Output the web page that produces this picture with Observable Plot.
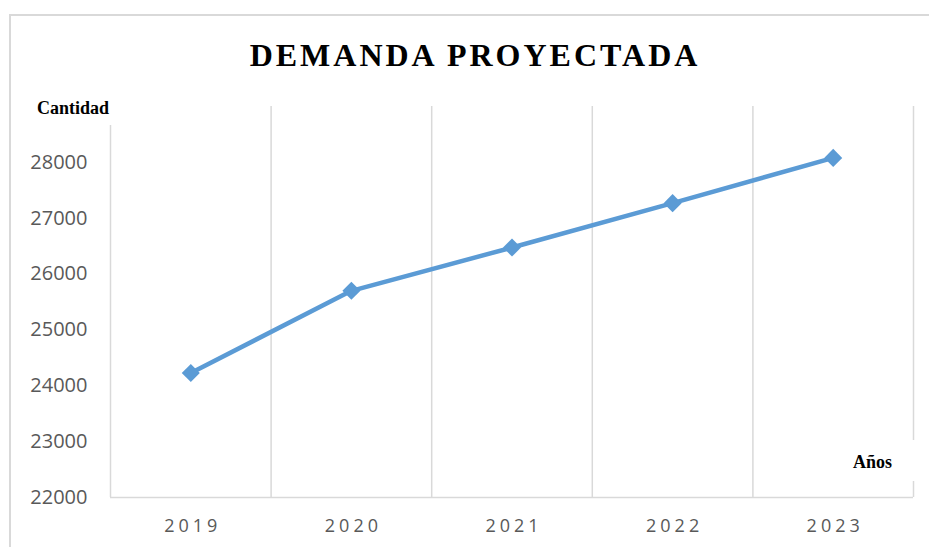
<!DOCTYPE html>
<html>
<head>
<meta charset="utf-8">
<script src="https://cdn.jsdelivr.net/npm/d3@7"></script>
<script src="https://cdn.jsdelivr.net/npm/@observablehq/plot@0.6"></script>
<style>
  body { margin: 0; background: #fff; }
  #wrap { position: relative; width: 929px; height: 547px; overflow: hidden; background: #fff; }
  #frame { position: absolute; left: 9px; top: 14px; width: 960px; height: 600px;
           border-left: 2px solid #d9d9d9; border-top: 2px solid #d9d9d9; box-sizing: border-box; }
  #chart { position: absolute; left: 0; top: 0; }
  #title { position: absolute; left: 0; width: 950px; top: 39px; text-align: center;
           font-family: "Liberation Serif", "Times New Roman", serif; font-weight: bold;
           font-size: 32px; line-height: 32px; letter-spacing: 3px; color: #000; }
  .boxlab { position: absolute; background: #fff; font-family: "Liberation Serif", "Times New Roman", serif;
            font-weight: bold; font-size: 18px; line-height: 18px; color: #000; box-sizing: border-box; }
  #ylab { left: 30px; top: 95px; width: 83px; height: 30px; padding: 4px 0 0 7px; }
  #xlab { left: 833px; top: 440px; width: 86px; height: 41px; padding: 13px 0 0 20px; }
  g[aria-label="x-axis tick label"] text { letter-spacing: 4px; }
</style>
</head>
<body>
<div id="wrap">
  <div id="frame"></div>
  <div id="chart"></div>
  <div id="title">DEMANDA PROYECTADA</div>
  <div id="ylab" class="boxlab">Cantidad</div>
  <div id="xlab" class="boxlab">Años</div>
</div>
<script>
const years = [2019, 2020, 2021, 2022, 2023];
const demanda = [24230, 25700, 26475, 27270, 28080];
const yTicks = [22000, 23000, 24000, 25000, 26000, 27000, 28000];
const yDomain = [22000, 29000];

const data = years.map((a, i) => ({anio: a, cantidad: demanda[i]}));
const bounds = years.map(a => a - 0.5).concat([years[years.length - 1] + 0.5]);

const diamond = {
  draw(ctx, size) {
    const h = Math.sqrt(size / 2);
    ctx.moveTo(0, -h); ctx.lineTo(h, 0); ctx.lineTo(0, h); ctx.lineTo(-h, 0); ctx.closePath();
  }
};

const chart = Plot.plot({
  width: 929,
  height: 547,
  marginLeft: 110,
  marginRight: 16,
  marginTop: 106,
  marginBottom: 50,
  style: {fontFamily: "'Open Sans', sans-serif", background: "transparent", color: "#595959"},
  x: {domain: [bounds[0], bounds[bounds.length - 1]]},
  y: {domain: yDomain},
  marks: [
    Plot.ruleX(bounds, {stroke: "#d9d9d9", strokeWidth: 1.5}),
    Plot.ruleY([yDomain[0]], {stroke: "#d9d9d9", strokeWidth: 1.5}),
    Plot.axisY({ticks: yTicks, tickFormat: d => String(d), tickSize: 0, tickPadding: 23, fontSize: 20, label: null, fill: "#595959"}),
    Plot.axisX({ticks: years, tickFormat: d => String(d), tickSize: 0, tickPadding: 22, fontSize: 18, dx: 2, label: null, fill: "#595959"}),
    Plot.line(data, {x: "anio", y: "cantidad", stroke: "#5B9BD5", strokeWidth: 4.5, strokeLinejoin: "round", strokeLinecap: "round"}),
    Plot.dot(data, {x: "anio", y: "cantidad", symbol: diamond, r: 7.2, fill: "#5B9BD5", stroke: "none"})
  ]
});
document.getElementById("chart").appendChild(chart);
</script>
</body>
</html>
